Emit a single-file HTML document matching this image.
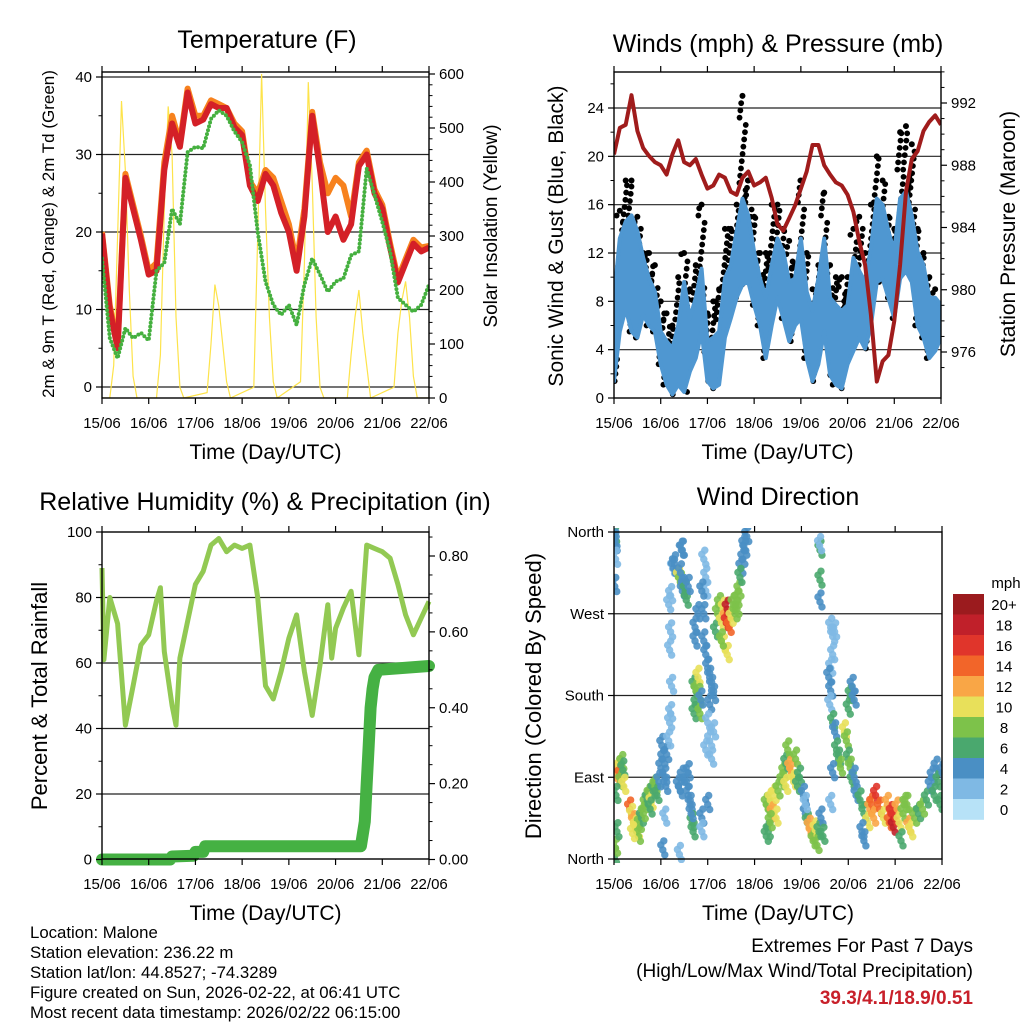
<!DOCTYPE html>
<html><head><meta charset="utf-8">
<style>
html,body{margin:0;padding:0;background:#fff;}
svg{display:block;font-family:"Liberation Sans",Arial,sans-serif;}
</style></head>
<body>
<svg id="chart" width="1024" height="1024" viewBox="0 0 1024 1024"></svg>
<script>
// ---------- DATA ----------
const dayLabels = ["15/06","16/06","17/06","18/06","19/06","20/06","21/06","22/06"];
// Temperature panel (4-hour steps)
const tempHours = [0,4,8,12,16,20,24,28,32,36,40,44,48,52,56,60,64,68,72,76,80,84,88,92,96,100,104,108,112,116,120,124,128,132,136,140,144,148,152,156,160,164,168];
const temp2m = [19.8,10,5,27,23,19,14.5,15,28,34,31,38,34,34.5,36.5,36,36,33.5,32.5,26,24,27.5,26,22.5,20,15,22,35,28,20,22,19,21,28.5,30,25,23,18,13.5,16,18.5,17.5,18];
const temp9m = [20,10.5,5.5,27.5,23.5,19.5,15,16,29,35,31.5,38.5,35,35,37,36.5,36,34,33,26.5,25,28,27,24,21,16,23,35.5,29,25,27,26,22,29,30.5,25.5,23.5,18.5,14,16.5,19,18,18.2];
const dew2m = [16.6,6.3,3.7,7.6,6.3,7,6,15,16,23,21,30.3,31,30.8,34.6,35.7,35,33,31.6,28.6,20,13.6,10.6,9.3,10.6,8,13.2,16.6,14.5,12.3,13.6,14,17,17.5,28.2,24.8,21.3,17.5,11.5,10.6,9.7,10.6,13.2];
const solarHours = [0,4,6,8,10,12,14,16,18,28,30,32,34,36,38,40,42,54,56,58,60,62,64,66,78,80,82,84,86,88,90,102,104,106,108,110,112,114,126,128,130,132,134,136,138,150,152,154,156,158,160,162,168];
const solarValues = [0,0,60,300,550,420,200,40,0,0,80,350,540,450,150,20,0,10,100,210,170,100,30,0,20,300,600,350,150,30,0,30,250,585,400,150,20,0,0,80,150,200,120,60,0,20,120,180,216,150,40,0,0];
// Wind panel (3-hour steps)
const windHours = [0,3,6,9,12,15,18,21,24,27,30,33,36,39,42,45,48,51,54,57,60,63,66,69,72,75,78,81,84,87,90,93,96,99,102,105,108,111,114,117,120,123,126,129,132,135,138,141,144,147,150,153,156,159,162,165,168];
const windHigh = [8.3,13.2,14.6,15.1,13.8,11.6,9.9,8.8,5.5,4.7,4.1,6,9.6,6.6,8.3,10.7,4.7,5,5.5,9.9,11,13.8,16.5,15.1,12.1,9.9,8.3,11,13.2,12.1,9.6,9.9,13.2,8.8,7.2,9.9,13.2,8.3,7.7,7.2,7.7,11.6,10.5,9.6,12.4,16.5,16,13.8,12.1,16.5,17.1,15.1,12.1,11,8.3,8.3,7.7];
const windLow = [1.4,5.5,7.4,5.5,5,6.9,6,5.5,2.8,1.1,0.3,1.1,0.5,2.2,3.3,5.5,1.4,0.8,1.1,5,6.6,8.3,9.4,9.6,7.7,6,3.3,6,8.3,6.6,4.7,6,6.6,3.3,1.4,2.8,5.5,1.9,1.1,0.8,2.8,3.9,5,4.1,6,9.6,9.9,8.3,6.6,9.9,10.5,9.6,6,5,3.3,3.9,5];
const windGust = [10,15.5,18,18,15,12,12,11,8,7,6,10,12,9,11,16,7,8,9,14,14,16,25,18,15,12,12,16,16,14,13,11,18,12,9,11,17,11,10,10,10,14,15,12,16,20,18,15,14,22,22.5,21,14,12,10,9,7];
const pressure = [988.7,990.4,990.6,992.5,990.2,989.1,988.6,988.2,988,987.4,988.7,989.6,988.2,988,988.4,987.4,986.5,986.7,987.4,987.2,986.3,986.1,987.2,987.6,986.7,986.9,987.2,985.9,984.2,983.8,984.6,985.4,986.5,987.6,989.3,989.3,988,987.4,986.9,986.7,986.1,985,983.1,981.6,978.4,974.1,975.4,975.8,978,981.6,986.3,988.4,988.9,990.2,990.8,991.2,990.6];
// RH / precip panel
const rhHours = [0,1,4,8,12,16,20,24,28,30,32,36,38,40,44,48,52,56,60,64,68,72,76,80,84,88,92,96,100,104,108,112,116,118,120,124,128,132,136,140,144,148,152,156,160,164,168];
const rhValues = [89,61,80,72,41,53,65.5,68.6,79,83,63.5,47,41,61.5,72.7,84,88,96,98,94,96,95,96,80,53,49,57.4,67.6,74.7,57.4,44,59.4,77.8,61.5,70.6,76.8,81.9,62.5,96,95,94,92,84,74.7,68.6,73.7,78.8];
const precipHours = [0,35,36,47,48,52,53,133,135,136,137,138,139,140,142,168];
const precipValues = [0,0,0.008,0.01,0.02,0.02,0.035,0.035,0.1,0.2,0.3,0.4,0.45,0.48,0.5,0.51];
// Wind direction panel
const dirHours = [0.3,0.5,0.6,0.8,0.4,0.2,0.8,1.5,2,2.5,3,3.5,4,4.5,5,1,1.5,8,9,10,11,12,12.5,13,14,9.5,15,16,17,18,19,20,21,22,23,18.5,24,25,26,24.5,26.5,27,26,25,28,28.5,29,29.5,28.5,29,28,29,30,30.5,31,33,34,34,35,35.5,34.5,35,33,34,35,33.5,37,38,39,40,40.5,38,39.5,36.5,37,38,41,42,42,43,43.5,41,44,44.5,43,41.5,41.5,46,47,47,46,47,48,49,50,51,49,48,47,49,50,51,46,45,45,45,48,52,53,54,55,56,57,57.5,58,59,60,61,62,63,56,58,55,63,64,65,66,67,68,66.5,64.5,78,79,80,81,82,83,84,78,79,80,86,87,88,89,90,91,92,93,94,95,88,97,98,99,100,101,102,103,104,105,106,107,98,105.5,105.5,105.5,105.3,111,112,113,111,112,110,111,110.5,112,113,114,115,116,112,111,118,119,120,121,122,120,121,122,123,124,123,126,128,130,131,132,133,134,136,138,140,141,142,143,144,145,146,148,150,151,152,154,156,158,160,162,163,164,165,166,167,168,127,128,147,149];
const dirDegrees = [355,350,345,330,300,2,12,95,88,100,92,85,105,98,80,70,30,55,48,40,35,30,25,38,45,28,50,60,65,70,62,75,80,70,85,55,100,110,90,125,80,115,45,10,130,150,160,190,230,250,280,290,320,320,325,310,305,315,295,300,340,340,80,75,90,5,85,70,60,40,30,95,50,295,285,300,190,185,170,200,180,160,160,175,270,255,240,330,295,310,240,225,210,200,190,180,170,150,120,130,110,140,270,295,45,30,60,250,270,280,260,275,265,260,275,255,265,280,270,275,235,225,240,285,295,320,330,340,355,345,310,60,55,65,50,70,45,75,25,30,40,85,95,105,120,100,95,85,110,80,90,80,70,50,40,35,28,20,32,15,30,45,25,60,340,307,283,345,255,245,250,210,225,200,185,170,150,140,120,110,100,95,60,140,130,110,100,85,165,180,190,175,70,90,65,50,40,55,60,45,70,55,45,60,40,50,35,45,55,40,50,60,35,30,45,50,55,65,80,90,70,100,85,60,95,30,20,20,60];
const dirSpeeds = [6,4,4,2,4,6,8,12,12,10,14,8,8,6,10,6,6,14,10,12,10,10,8,8,6,10,8,8,6,8,10,6,8,6,4,6,4,4,4,4,4,4,2,4,2,2,2,2,2,2,2,2,2,4,4,10,8,4,4,4,4,4,4,4,4,2,4,4,4,6,6,4,4,6,6,4,6,8,6,10,8,6,8,4,4,4,4,2,2,2,4,4,4,4,4,4,4,2,2,2,2,2,4,4,4,2,4,6,8,8,10,10,12,16,18,14,10,8,8,8,10,10,8,8,8,4,4,4,4,4,6,8,8,10,12,10,10,8,6,6,8,8,8,6,8,12,12,10,8,6,6,10,4,4,6,12,12,8,10,8,6,4,6,2,6,6,4,2,2,2,2,2,2,4,4,2,6,4,6,6,8,4,2,10,8,6,8,6,6,6,4,4,4,4,6,6,10,12,14,12,16,14,10,12,14,16,18,16,12,10,8,8,12,10,8,6,8,6,4,4,6,4,6,6,4,4,4,6,8];
const speedColors = ["#b7e2f7","#7fb9e4","#4a8fc4","#4aa86e","#7dc24a","#e8e05a","#f9a646","#f26529","#e0352b","#c0202a","#9b1b1e"];
const speedLabels = ["0","2","4","6","8","10","12","14","16","18","20+"];

// ---------- RENDER ----------
const NS = "http://www.w3.org/2000/svg";
const svg = document.getElementById("chart");
function mk(tag, attrs, parent){
  const e = document.createElementNS(NS, tag);
  for (const k in attrs) e.setAttribute(k, attrs[k]);
  (parent||svg).appendChild(e);
  return e;
}
function txt(s, x, y, size, anchor, parent, extra){
  const t = mk("text", Object.assign({x:x, y:y, "font-size":size, "text-anchor":anchor||"start", fill:"#000"}, extra||{}), parent);
  t.textContent = s;
  return t;
}
function linear(d0,d1,r0,r1){ return v => r0 + (v-d0)/(d1-d0)*(r1-r0); }

function panel(name){
  const g = mk("g", {});
  
  
  return g;
}
function frame(g, L, R, T, B){
  const f = mk("rect", {x:L, y:T, width:R-L, height:B-T, fill:"none", stroke:"#000", "stroke-width":1.4}, g);
  
  
}
function xAxis(g, L, R, T, B){
  const x = linear(0,168,L,R);
  const ax = mk("g", {}, g);
  
  
  dayLabels.forEach((d,i)=>{
    const px = x(i*24);
    mk("line",{x1:px,x2:px,y1:B,y2:B+6,stroke:"#000","stroke-width":1.2},ax);
    mk("line",{x1:px,x2:px,y1:T,y2:T-6,stroke:"#000","stroke-width":1.2},ax);
    const t = txt(d, px, B+30, 15, "middle", ax);
    
    
  });
  const tt = txt("Time (Day/UTC)", (L+R)/2, B+61, 21, "middle", g);
  
  
  return x;
}
function grid(g, L, R, py){
  const l = mk("line",{x1:L,x2:R,y1:py,y2:py,stroke:"#222","stroke-width":1.2},g);
  
  
}
function yTicks(g, side, X, vals, y, labels, minorVals){
  const dir = side==="left" ? -1 : 1;
  vals.forEach((v,i)=>{
    const py = y(v);
    mk("line",{x1:X,x2:X+dir*6,y1:py,y2:py,stroke:"#000","stroke-width":1.2},g);
    const t = txt(labels[i], X+dir*10, py+5, 15, side==="left"?"end":"start", g);
    
    
  });
  (minorVals||[]).forEach(v=>{
    const py = y(v);
    mk("line",{x1:X,x2:X+dir*3.5,y1:py,y2:py,stroke:"#000","stroke-width":1},g);
  });
}
function vtitle(g, s, x, y, size, name){
  const t = txt(s, x, y, size, "middle", g, {transform:`rotate(-90 ${x} ${y})`});
  
  
}
function title(g, s, x, y){
  const t = txt(s, x, y, 25, "middle", g);
  
  
}
function pathD(xs, ys, x, y){
  return xs.map((h,i)=>(i?"L":"M")+x(h).toFixed(1)+","+y(ys[i]).toFixed(1)).join("");
}
function range(a,b,s){const r=[];for(let v=a;v<=b+1e-9;v+=s)r.push(+v.toFixed(4));return r;}

// ===== Panel 1: Temperature =====
(function(){
  const L=102,R=429,T=72,B=398;
  const g = panel("temperature-panel");
  const y = linear(0,40,387,77);
  const yS = linear(0,600,398,74);
  const x = linear(0,168,L,R);
  [0,10,20,30,40].forEach(v=>grid(g,L,R,y(v)));
  const cp = mk("clipPath",{id:"c1"},g); mk("rect",{x:L,y:T,width:R-L,height:B-T},cp);
  const pg = mk("g",{"clip-path":"url(#c1)"},g);
  const sol = mk("path",{d:pathD(solarHours,solarValues,x,yS),fill:"none",stroke:"#fde34a","stroke-width":1.2},pg);
  
  
  const o = mk("path",{d:pathD(tempHours,temp9m,x,y),fill:"none",stroke:"#f7821e","stroke-width":6,"stroke-linejoin":"round"},pg);
  
  
  const r = mk("path",{d:pathD(tempHours,temp2m,x,y),fill:"none",stroke:"#d42027","stroke-width":6,"stroke-linejoin":"round"},pg);
  
  
  const d = mk("path",{d:pathD(tempHours,dew2m,x,y),fill:"none",stroke:"#45b03f","stroke-width":4,"stroke-dasharray":"0 4","stroke-linecap":"round"},pg);
  
  
  frame(g,L,R,T,B);
  xAxis(g,L,R,T,B);
  yTicks(g,"left",L,[0,10,20,30,40],y,["0","10","20","30","40"],[5,15,25,35]);
  yTicks(g,"right",R,[0,100,200,300,400,500,600],yS,["0","100","200","300","400","500","600"],range(20,580,20).filter(v=>v%100));
  title(g,"Temperature (F)",267,48);
  vtitle(g,"2m & 9m T (Red, Orange) & 2m Td (Green)",54,234,17,"left-y-axis-title");
  vtitle(g,"Solar Insolation (Yellow)",497,226,19,"right-y-axis-title");
})();

// ===== Panel 2: Winds & Pressure =====
(function(){
  const L=614,R=941,T=72,B=398;
  const g = panel("winds-pressure-panel");
  const y = linear(0,24,398,108);
  const yP = linear(976,992,352,103);
  const x = linear(0,168,L,R);
  [4,8,12,16,20,24].forEach(v=>grid(g,L,R,y(v)));
  const cp = mk("clipPath",{id:"c2"},g); mk("rect",{x:L,y:T,width:R-L,height:B-T},cp);
  const pg = mk("g",{"clip-path":"url(#c2)"},g);
  const gg = mk("g",{fill:"#000"},pg);
  
  
  windHours.forEach((h,i)=>{
    const top = windGust[i], bot = windLow[i];
    for (let v=bot; v<=top; v+=0.6){
      mk("circle",{cx:x(h)+((v*13)%7-3.5),cy:y(v),r:2.9},gg);
    }
    mk("circle",{cx:x(h),cy:y(top),r:3},gg);
  });
  const pts = windHours.map((h,i)=>x(h).toFixed(1)+","+y(windHigh[i]).toFixed(1))
    .concat(windHours.slice().reverse().map((h,j)=>{const i=windHours.length-1-j;return x(h).toFixed(1)+","+y(windLow[i]).toFixed(1);}));
  const band = mk("polygon",{points:pts.join(" "),fill:"#4f97d1",stroke:"#4f97d1","stroke-width":4,"stroke-linejoin":"round"},pg);
  
  
  const p = mk("path",{d:pathD(windHours,pressure,x,yP),fill:"none",stroke:"#a01c1c","stroke-width":4,"stroke-linejoin":"round"},pg);
  
  
  frame(g,L,R,T,B);
  xAxis(g,L,R,T,B);
  yTicks(g,"left",L,[0,4,8,12,16,20,24],y,["0","4","8","12","16","20","24"],[2,6,10,14,18,22,26]);
  yTicks(g,"right",R,[976,980,984,988,992],yP,["976","980","984","988","992"],range(975,994,1).filter(v=>v%4));
  title(g,"Winds (mph) & Pressure (mb)",778,52);
  vtitle(g,"Sonic Wind & Gust (Blue, Black)",563,236,21,"left-y-axis-title");
  vtitle(g,"Station Pressure (Maroon)",1015,234,21,"right-y-axis-title");
})();

// ===== Panel 3: RH & Precip =====
(function(){
  const L=102,R=429,T=532,B=859;
  const g = panel("humidity-precip-panel");
  const y = linear(0,100,859.5,532);
  const yR = linear(0,0.8,859.5,556);
  const x = linear(0,168,L,R);
  [20,40,60,80].forEach(v=>grid(g,L,R,y(v)));
  const rh = mk("path",{d:pathD(rhHours,rhValues,x,y),fill:"none",stroke:"#92c953","stroke-width":5,"stroke-linejoin":"round"},g);
  
  
  const pr = mk("path",{d:pathD(precipHours,precipValues,x,yR),fill:"none",stroke:"#45b143","stroke-width":12,"stroke-linecap":"round","stroke-linejoin":"round"},g);
  
  
  frame(g,L,R,T,B);
  xAxis(g,L,R,T,B);
  yTicks(g,"left",L,[0,20,40,60,80,100],y,["0","20","40","60","80","100"],[10,30,50,70,90]);
  yTicks(g,"right",R,[0,0.2,0.4,0.6,0.8],yR,["0.00","0.20","0.40","0.60","0.80"],range(0.05,0.85,0.05).filter((v,i)=>i%4!==3));
  title(g,"Relative Humidity (%) & Precipitation (in)",265,510);
  vtitle(g,"Percent & Total Rainfall",47,696,22,"left-y-axis-title");
})();

// ===== Panel 4: Wind Direction =====
(function(){
  const L=614,R=942,T=532,B=859;
  const g = panel("wind-direction-panel");
  const y = linear(0,360,859,532);
  const x = linear(0,168,L,R);
  [90,180,270].forEach(v=>grid(g,L,R,y(v)));
  const cp = mk("clipPath",{id:"c4"},g); mk("rect",{x:L,y:T-4,width:R-L,height:B-T+8},cp);
  const pg = mk("g",{"clip-path":"url(#c4)"},g);
  const offs = [[0,0],[-2,-5],[2,5],[1,-9]];
  dirHours.forEach((h,i)=>{
    const bin = Math.min(10, Math.floor(dirSpeeds[i]/2));
    const cx = x(h), cy = y(dirDegrees[i]);
    offs.forEach(o=>{
      const c = mk("circle",{cx:cx+o[0],cy:cy+o[1],r:3.7,fill:speedColors[bin],"fill-opacity":0.9},pg);
      
      
    });
  });
  frame(g,L,R,T,B);
  xAxis(g,L,R,T,B);
  yTicks(g,"left",L,[0,90,180,270,360],y,["North","East","South","West","North"],[]);
  title(g,"Wind Direction",778,505);
  vtitle(g,"Direction (Colored By Speed)",541,696,22,"left-y-axis-title");
  const cb = mk("g",{},g);
  
  
  const top=594, h=20.5;
  speedColors.slice().reverse().forEach((c,i)=>{
    mk("rect",{x:953,y:top+i*h,width:31,height:h+0.3,fill:c},cb);
    const t = txt(speedLabels[10-i],1004,top+i*h+16,15,"middle",cb);
    
    
  });
  const u = txt("mph",1006,588,15,"middle",cb);
  
  
})();

// ===== Footer text =====
(function(){
  const g = mk("g",{});
  
  
  ["Location: Malone","Station elevation: 236.22 m","Station lat/lon: 44.8527; -74.3289","Figure created on Sun, 2026-02-22, at 06:41 UTC","Most recent data timestamp: 2026/02/22 06:15:00"]
    .forEach((s,i)=>txt(s,30,938+i*20,16.8,"start",g));
  const e = mk("g",{});
  
  
  txt("Extremes For Past 7 Days",973,952,19,"end",e);
  txt("(High/Low/Max Wind/Total Precipitation)",973,977,19,"end",e);
  txt("39.3/4.1/18.9/0.51",973,1004,19,"end",e,{fill:"#c8202a","font-weight":"bold"});
})();
</script>
</body></html>
